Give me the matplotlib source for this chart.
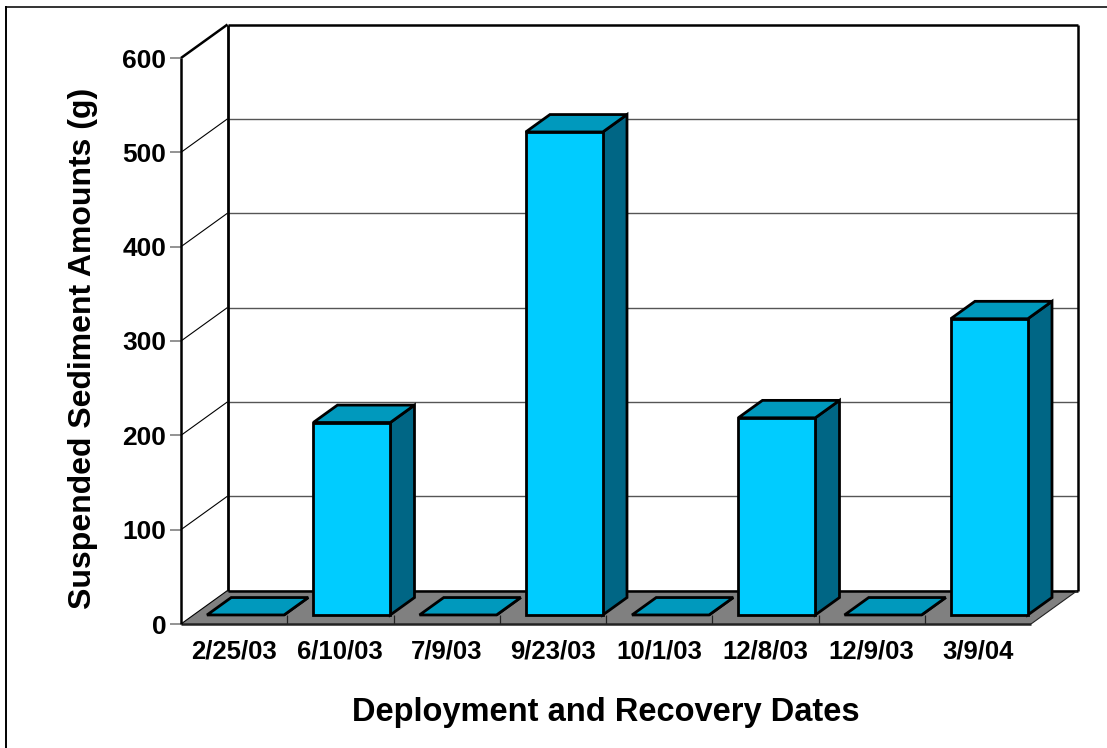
import matplotlib
matplotlib.use("Agg")
import matplotlib.pyplot as plt
from matplotlib.lines import Line2D
from matplotlib.patches import Polygon

dates = ["2/25/03", "6/10/03", "7/9/03", "9/23/03", "10/1/03", "12/8/03", "12/9/03", "3/9/04"]
sediment = [0, 204, 0, 512, 0, 209, 0, 314]
y_ticks = [0, 100, 200, 300, 400, 500, 600]

W, H = 1107, 748
fig = plt.figure(figsize=(W / 100, H / 100), dpi=100, facecolor="white")
plt.rcParams["font.family"] = ["Liberation Sans", "DejaVu Sans"]

# Front plane of the 3D box, in pixel bounds
left, right, bottom, top = 181, 1031, 624, 58
ax = fig.add_axes([left / W, 1 - bottom / H, (right - left) / W, (bottom - top) / H])
ax.set_xlim(0, len(dates))
ax.set_ylim(0, 600)
ax.patch.set_visible(False)
for s in ax.spines.values():
    s.set_visible(False)

# Oblique depth vector of the box, in data units
DX = 46.5 / ((right - left) / len(dates))
DY = 33.5 / ((bottom - top) / 600)
BOX_TOP = 600

INK = "#000000"
FRONT = "#00CCFF"
SIDE = "#006685"
CAP = "#0099BD"
FLOOR = "#808080"


def poly(pts, fc="none", ec=INK, lw=2.0, z=2):
    ax.add_patch(Polygon(pts, closed=True, facecolor=fc, edgecolor=ec, lw=lw,
                         zorder=z, clip_on=False, joinstyle="miter"))


def line(xs, ys, color=INK, lw=1.0, z=1):
    ax.plot(xs, ys, color=color, lw=lw, zorder=z, clip_on=False, solid_capstyle="butt")


# Floor with its front band dividers
n = len(dates)
D0 = 0.27
D1 = 0.79
poly([(0, 0), (n, 0), (n + DX, DY), (DX, DY)], fc=FLOOR, ec="none", z=1)
line([0, n], [0, 0], lw=1.8, color="#222222", z=1.6)
line([DX, n + DX], [DY, DY], lw=1.8, z=1.5)
line([n, n + DX], [0, DY], lw=0.8, color="#222222", z=1.5)
for i in range(1, n):
    line([i, i], [0, DY * D0], lw=0.9, color="#222222", z=1.5)

# Gridlines on the side and back walls
for v in y_ticks[1:-1]:
    line([0, DX], [v, v + DY], lw=0.8, z=1)
    line([DX, n + DX], [v + DY, v + DY], lw=1.0, color="#555555", z=1)

# Wall outlines
line([0, 0], [0, BOX_TOP], lw=1.8, z=1.7)
line([0, DX], [BOX_TOP, BOX_TOP + DY], lw=1.8, z=1.7)
line([0, DX], [0, DY], lw=0.8, z=1.7)
line([DX, DX], [DY, BOX_TOP + DY], lw=2.0, z=1.7)
line([DX, n + DX], [BOX_TOP + DY, BOX_TOP + DY], lw=1.8, z=1.7)
line([n + DX, n + DX], [DY, BOX_TOP + DY], lw=1.8, z=1.7)

# Bars: front face, right side and cap
BAR_W = 0.725
BAR_X0 = 0.245
for i, v in enumerate(sediment):
    x0 = i + BAR_X0
    x1 = x0 + BAR_W
    dx = DX * (D1 - D0)
    dy = DY * (D1 - D0)
    y0 = DY * D0
    y1 = y0 + v
    z = 3 + i * 0.1
    poly([(x1, y0), (x1 + dx, y0 + dy), (x1 + dx, y1 + dy), (x1, y1)], fc=SIDE, z=z)
    poly([(x0, y1), (x1, y1), (x1 + dx, y1 + dy), (x0 + dx, y1 + dy)], fc=CAP, z=z)
    if v > 0:
        poly([(x0, y0), (x1, y0), (x1, y1), (x0, y1)], fc=FRONT, z=z)

# Axis ticks and labels
ax.set_xticks([i + 0.5 for i in range(n)], dates, fontsize=18.5, fontweight="bold")
ax.set_yticks(y_ticks, [str(v) for v in y_ticks], fontsize=19, fontweight="bold")
ax.tick_params(axis="x", length=0, pad=11)
ax.tick_params(axis="y", length=8, width=1.2, color="#808080", pad=2.5)

fig.text(606 / W, 1 - 712.5 / H, "Deployment and Recovery Dates", fontsize=23.5, fontweight="bold",
         ha="center", va="center")
fig.text(83 / W, 1 - 348 / H, "Suspended Sediment Amounts (g)", fontsize=23, fontweight="bold",
         rotation=90, ha="center", va="center")

# Outer frame: only the top and left edges fall inside the image
fig.add_artist(Line2D([6 / W, 1], [1 - 6.5 / H, 1 - 6.5 / H], color="#333333", lw=1.4,
                      transform=fig.transFigure))
fig.add_artist(Line2D([6 / W, 6 / W], [0, 1 - 6.5 / H], color=INK, lw=1.4,
                      transform=fig.transFigure))

fig.savefig("out.png", dpi=100, facecolor="white")
